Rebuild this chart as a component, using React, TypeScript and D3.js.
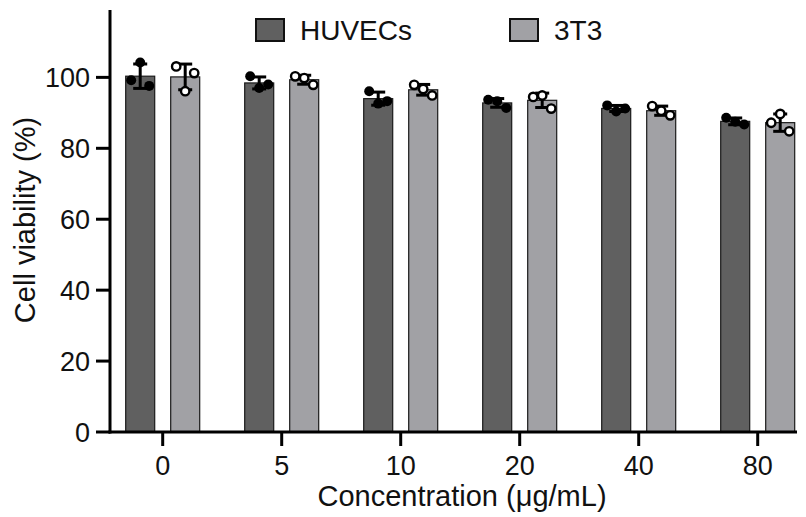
import React from "react";
import * as d3 from "d3";

const categories = ["0", "5", "10", "20", "40", "80"];
const seriesNames = ["HUVECs", "3T3"];
// replicate values per concentration (left, middle, right as plotted)
const huvecValues = [
  [99.2, 104.2, 97.6],
  [100.3, 97.0, 98.0],
  [96.1, 92.6, 93.3],
  [93.7, 93.3, 91.4],
  [92.1, 90.4, 91.2],
  [88.6, 87.5, 86.7],
];
const t3Values = [
  [103.1, 96.1, 101.2],
  [100.3, 99.8, 97.9],
  [97.9, 96.7, 94.9],
  [94.5, 94.9, 91.2],
  [91.9, 90.6, 89.3],
  [87.2, 89.7, 84.8],
];
const yTicks = [0, 20, 40, 60, 80, 100];
const yMax = 119;

const W = 806;
const H = 517;
const FONT = "'Liberation Sans', Arial, Helvetica, sans-serif";
const colors = ["#606060", "#a1a1a5"];

export default function App() {
  const x = d3.scalePoint<string>().domain(categories).range([162.7, 757.7]);
  const y = d3.scaleLinear().domain([0, yMax]).range([432, 10]);
  const sub = d3.scalePoint<string>().domain(seriesNames).range([-22.5, 22.5]);
  const barW = 29;
  const jitter = [-9, 0, 9];
  const axisLeft = 110;
  const axisRight = 797;

  const series = [huvecValues, t3Values];

  return (
    <svg
      width={W}
      height={H}
      style={{ position: "absolute", left: 0, top: 0, background: "#fff" }}
      fontFamily={FONT}
    >
      {/* bars, error bars, points */}
      {series.map((vals, si) =>
        vals.map((reps, ci) => {
          const cx = (x(categories[ci]) as number) + (sub(seriesNames[si]) as number);
          const mean = d3.mean(reps) as number;
          const sd = d3.deviation(reps) as number;
          return (
            <g key={`${si}-${ci}`}>
              <rect
                x={cx - barW / 2}
                y={y(mean)}
                width={barW}
                height={y(0) - y(mean)}
                fill={colors[si]}
                stroke="#1a1a1a"
                strokeWidth={1.2}
              />
              <line x1={cx} x2={cx} y1={y(mean - sd)} y2={y(mean + sd)} stroke="#000" strokeWidth={3} />
              <line x1={cx - 7} x2={cx + 7} y1={y(mean + sd)} y2={y(mean + sd)} stroke="#000" strokeWidth={3} />
              <line x1={cx - 7} x2={cx + 7} y1={y(mean - sd)} y2={y(mean - sd)} stroke="#000" strokeWidth={3} />
              {reps.map((v, ri) => (
                <circle
                  key={ri}
                  cx={cx + jitter[ri]}
                  cy={y(v)}
                  r={si === 0 ? 5 : 4.2}
                  fill={si === 0 ? "#000" : "#fff"}
                  stroke="#000"
                  strokeWidth={si === 0 ? 0 : 2.4}
                />
              ))}
            </g>
          );
        })
      )}

      {/* Y axis */}
      <line x1={axisLeft} x2={axisLeft} y1={y(yMax)} y2={y(0) + 1.5} stroke="#000" strokeWidth={3} />
      {yTicks.map((t) => (
        <g key={t}>
          <line x1={axisLeft - 14} x2={axisLeft} y1={y(t)} y2={y(t)} stroke="#000" strokeWidth={3} />
          <text x={axisLeft - 20} y={y(t)} dy="0.36em" textAnchor="end" fontSize={27} fill="#111">
            {t}
          </text>
        </g>
      ))}

      {/* X axis */}
      <line x1={axisLeft - 1.5} x2={axisRight} y1={y(0)} y2={y(0)} stroke="#000" strokeWidth={3} />
      {categories.map((c) => (
        <g key={c}>
          <line x1={x(c)} x2={x(c)} y1={y(0)} y2={y(0) + 14} stroke="#000" strokeWidth={3} />
          <text x={x(c)} y={475} textAnchor="middle" fontSize={27} fill="#111">
            {c}
          </text>
        </g>
      ))}

      {/* axis titles */}
      <text x={462} y={506} textAnchor="middle" fontSize={29} fill="#111">
        Concentration (μg/mL)
      </text>
      <text
        transform={`translate(35, 220) rotate(-90)`}
        textAnchor="middle"
        fontSize={29}
        fill="#111"
      >
        Cell viability (%)
      </text>

      {/* legend */}
      {seriesNames.map((n, i) => {
        const lx = i === 0 ? 256 : 510;
        return (
          <g key={n}>
            <rect x={lx} y={19} width={28} height={22} fill={colors[i]} stroke="#111" strokeWidth={2} />
            <text x={lx + 44} y={40} fontSize={28} fill="#111">
              {n}
            </text>
          </g>
        );
      })}
    </svg>
  );
}
